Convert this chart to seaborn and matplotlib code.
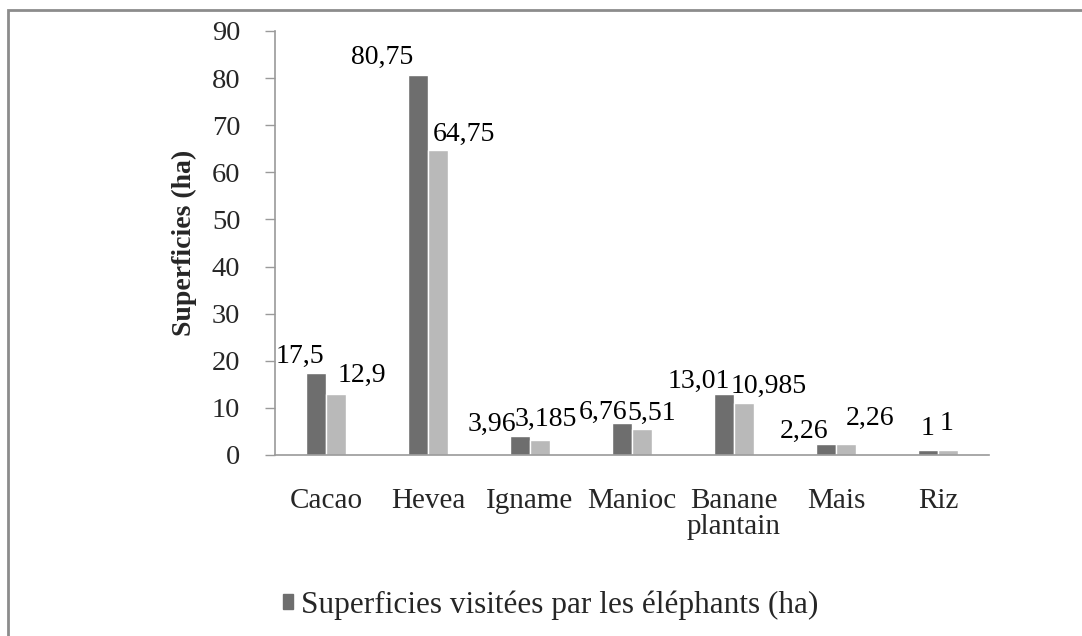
import matplotlib
matplotlib.use('Agg')

import matplotlib.pyplot as plt
import matplotlib.patches as mpatches
import pandas as pd
import seaborn as sns

# data
cultures = ["Cacao", "Hevea", "Igname", "Manioc", "Banane\nplantain", "Mais", "Riz"]
visitees = [17.5, 80.75, 3.96, 6.76, 13.01, 2.26, 1]
detruites = [12.9, 64.75, 3.185, 5.51, 10.985, 2.26, 1]
labels_visitees = ["17,5", "80,75", "3,96", "6,76", "13,01", "2,26", "1"]
labels_detruites = ["12,9", "64,75", "3,185", "5,51", "10,985", "2,26", "1"]
serie_a = "Superficies visitées par les éléphants (ha)"
serie_b = "Superficies détruites (ha)"


def main():
    sns.set_style("white")
    plt.rcParams['font.family'] = ['Liberation Serif', 'DejaVu Serif']

    df = pd.DataFrame({
        "culture": cultures * 2,
        "valeur": visitees + detruites,
        "serie": [serie_a] * len(cultures) + [serie_b] * len(cultures),
    })

    fig = plt.figure(figsize=(10.82, 6.36), dpi=100)
    ax = fig.add_axes([0.2542, 0.2846, 0.6599, 0.6667])

    sns.barplot(data=df, x="culture", y="valeur", hue="serie",
                palette=["#6e6e6e", "#b9b9b9"], width=0.39, gap=0,
                saturation=1, ax=ax, legend=False)

    ax.set_ylim(0, 90)
    ax.set_yticks(range(0, 91, 10))
    ax.set_xlim(-0.5, len(cultures) - 0.5)
    ax.set_xlabel("")
    ax.set_ylabel("Superficies (ha)", fontsize=20, fontweight="bold")
    ax.yaxis.set_label_coords(-0.127, 0.5)
    ax.yaxis.label.set_va("center")

    for s in ["top", "right"]:
        ax.spines[s].set_visible(False)
    for s in ["left", "bottom"]:
        ax.spines[s].set_color("#9a9a9a")
        ax.spines[s].set_linewidth(1.2)

    ax.tick_params(axis="y", length=7, width=1, color="#9a9a9a", pad=18,
                   labelsize=20.5, direction="out", left=True)
    ax.tick_params(axis="x", length=0, pad=24, labelsize=21)
    for t in ax.get_xticklabels():
        t.set_linespacing(1.0)

    # data labels (Excel-like placement, slightly off the bars)
    nudge_a = [(-16, 16), (-36, 17), (-28, 12), (-19, 11), (-25, 12), (-22, 13), (-1, 22)]
    nudge_b = [(26, 19), (26, 16), (6, 21), (10, 16), (25, 17), (24, 26), (-1, 27)]
    for cont, labs, nudges in zip(ax.containers, [labels_visitees, labels_detruites],
                                  [nudge_a, nudge_b]):
        for bar, lab, (dx, dy) in zip(cont, labs, nudges):
            x = bar.get_x() + bar.get_width() / 2
            ax.annotate(lab, (x, bar.get_height()), xytext=(dx, dy),
                        textcoords="offset pixels", ha="center", va="center",
                        fontsize=20, color="black")

    handle = mpatches.Patch(color="#6e6e6e", label=serie_a)
    fig.legend(handles=[handle], loc="center left",
               bbox_to_anchor=(0.2616, 1 - 605 / 636), frameon=False,
               fontsize=22.5, handlelength=0.33, handleheight=0.33,
               handletextpad=0.25, borderpad=0, borderaxespad=0)

    frame = mpatches.Rectangle((8 / 1082, -0.1), 1.2, 1.1 - 10 / 636,
                               transform=fig.transFigure, fill=False,
                               edgecolor="#8c8c8c", linewidth=2)
    fig.patches.append(frame)

    plt.savefig("out.png", dpi=100)


if __name__ == "__main__":
    main()
